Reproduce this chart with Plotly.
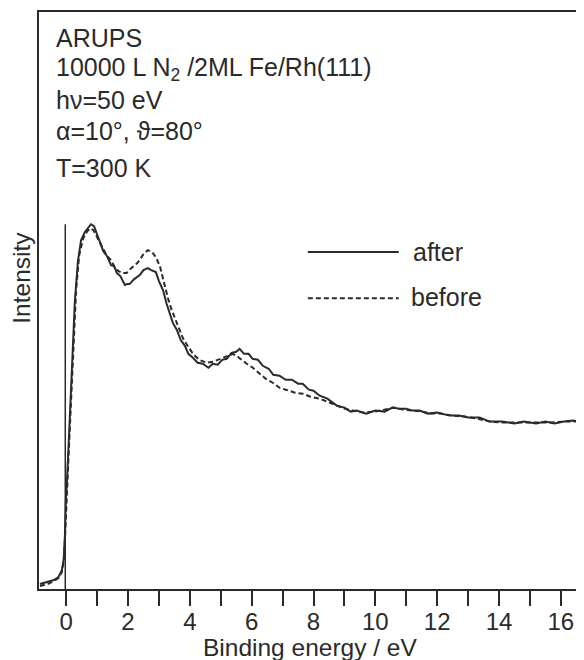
import plotly.graph_objects as go

# ---- data (binding energy in eV, intensity in arb. units) ----
energy_after = [-0.85, -0.6, -0.4, -0.25, -0.14, -0.08, -0.04, -0.01, 0.02, 0.1,
                0.15, 0.22, 0.28, 0.38, 0.48, 0.6, 0.72, 0.8, 0.9, 1.0,
                1.1, 1.2, 1.32, 1.45, 1.55, 1.64, 1.75, 1.9, 1.97, 2.05,
                2.2, 2.38, 2.5, 2.64, 2.75, 2.9, 3.0, 3.13, 3.25, 3.35,
                3.45, 3.58, 3.7, 3.84, 3.95, 4.1, 4.25, 4.42, 4.6, 4.74,
                4.9, 5.05, 5.19, 5.35, 5.5, 5.61, 5.75, 5.9, 6.03, 6.2,
                6.36, 6.55, 6.7, 6.9, 7.1, 7.3, 7.5, 7.65, 7.85, 8.0,
                8.2, 8.45, 8.75, 9.0, 9.2, 9.4, 9.7, 10.0, 10.3, 10.55,
                10.78, 11.0, 11.2, 11.43, 11.7, 12.0, 12.4, 12.7, 13.0, 13.37,
                13.7, 14.1, 14.5, 14.8, 15.2, 15.5, 15.8, 16.1, 16.4, 16.62]
intensity_after = [5, 7, 9, 12, 19, 30, 55, 90, 105, 160,
                   194, 245, 289, 329, 350, 358, 363, 366, 364, 355,
                   348, 339, 334, 325, 324, 317, 314, 305, 306, 306,
                   311, 315, 320, 322, 320, 318, 309, 300, 286, 277,
                   267, 260, 250, 244, 236, 232, 227, 226, 222, 226,
                   225, 230, 231, 237, 238, 241, 236, 236, 231, 230,
                   224, 221, 215, 214, 210, 210, 206, 206, 200, 199,
                   194, 191, 184, 182, 178, 179, 176, 179, 178, 182,
                   181, 181, 179, 179, 176, 177, 174, 174, 172, 172,
                   168, 168, 166, 168, 166, 168, 166, 168, 169, 168]

energy_before = [-0.85, -0.6, -0.4, -0.25, -0.14, -0.08, -0.04, 0.0, 0.03, 0.1,
                 0.17, 0.25, 0.32, 0.42, 0.55, 0.68, 0.78, 0.88, 1.0, 1.1,
                 1.2, 1.32, 1.45, 1.6, 1.8, 1.95, 2.1, 2.3, 2.5, 2.64,
                 2.78, 2.9, 3.03, 3.15, 3.29, 3.4, 3.52, 3.65, 3.77, 3.95,
                 4.1, 4.3, 4.55, 4.75, 4.97, 5.2, 5.39, 5.55, 5.7, 5.84,
                 6.04, 6.26, 6.45, 6.68, 6.9, 7.1, 7.4, 7.65, 7.9, 8.2,
                 8.5, 8.75, 9.0, 9.3, 9.6, 10.0, 10.3, 10.6, 10.9, 11.2,
                 11.5, 11.8, 12.1, 12.5, 12.9, 13.3, 13.7, 14.1, 14.5, 14.9,
                 15.3, 15.7, 16.1, 16.62]
intensity_before = [3, 5, 8, 11, 17, 28, 50, 85, 100, 150,
                    200, 255, 300, 335, 352, 359, 362, 360, 353, 347,
                    342, 334, 330, 321, 317, 317, 322, 327, 336, 340,
                    338, 333, 324, 308, 292, 281, 272, 262, 252, 243,
                    236, 230, 227, 228, 231, 234, 236, 233, 229, 226,
                    222, 216, 211, 207, 202, 200, 197, 196, 193, 191,
                    187, 184, 181, 179, 177, 178, 180, 182, 180, 179,
                    178, 176, 176, 174, 173, 171, 168, 167, 167, 167,
                    167, 167, 168, 168]

# Fermi level marker
fermi_x = [-0.03, -0.03]
fermi_y = [0, 366]

info_lines = ['ARUPS',
              '10000 L N<sub>2</sub> /2ML Fe/Rh(111)',
              'h\u03bd=50 eV',
              '\u03b1=10\u00b0, \u03d1=80\u00b0',
              'T=300 K']
info_y = [0.955, 0.902, 0.848, 0.794, 0.729]

ink = '#2a2a2a'
font = 'Liberation Sans, Arial, sans-serif'

fig = go.Figure()
fig.add_trace(go.Scatter(x=energy_before, y=intensity_before, mode='lines',
                         line=dict(color=ink, width=2, dash='5px,3px'),
                         name='before', showlegend=False))
fig.add_trace(go.Scatter(x=energy_after, y=intensity_after, mode='lines',
                         line=dict(color=ink, width=2),
                         name='after', showlegend=False))
fig.add_trace(go.Scatter(x=fermi_x, y=fermi_y, mode='lines',
                         line=dict(color=ink, width=1.5), showlegend=False))

# text block top left
for txt, yy in zip(info_lines, info_y):
    fig.add_annotation(text=txt, x=0.028, y=yy, xref='paper', yref='paper',
                       xanchor='left', yanchor='middle', showarrow=False,
                       font=dict(size=25, color=ink, family=font))

# hand-drawn legend
fig.add_shape(type='line', xref='paper', yref='paper', x0=0.497, x1=0.665,
              y0=0.584, y1=0.584, line=dict(color=ink, width=2))
fig.add_shape(type='line', xref='paper', yref='paper', x0=0.497, x1=0.665,
              y0=0.504, y1=0.504, line=dict(color=ink, width=2, dash='5px,3px'))
fig.add_annotation(text='after', x=0.688, y=0.584, xref='paper', yref='paper',
                   xanchor='left', yanchor='middle', showarrow=False,
                   font=dict(size=25, color=ink, family=font))
fig.add_annotation(text='before', x=0.684, y=0.506, xref='paper', yref='paper',
                   xanchor='left', yanchor='middle', showarrow=False,
                   font=dict(size=25, color=ink, family=font))

# axis titles
fig.add_annotation(text='Intensity', x=-0.032, y=0.539, xref='paper', yref='paper',
                   textangle=-90, xanchor='center', yanchor='middle', showarrow=False,
                   font=dict(size=24.5, color=ink, family=font))
fig.add_annotation(text='Binding energy / eV', x=0.5, y=-0.102, xref='paper', yref='paper',
                   xanchor='center', yanchor='middle', showarrow=False,
                   font=dict(size=24.5, color=ink, family=font))

# page body has an 8px margin, so the figure is sized/offset to compensate
fig.update_layout(
    width=576, height=652,
    margin=dict(l=31, r=4, t=2, b=71),
    paper_bgcolor='white', plot_bgcolor='white',
    font=dict(family=font, color=ink, size=24),
    xaxis=dict(range=[-0.88, 16.62], showgrid=False, zeroline=False,
               showline=True, mirror=True, linecolor=ink, linewidth=2,
               ticks='outside', ticklen=15, tickwidth=2, tickcolor=ink,
               tick0=0, dtick=2, ticklabelstandoff=-5,
               minor=dict(ticks='outside', ticklen=15, tickwidth=2,
                          tickcolor=ink, tick0=0, dtick=1, showgrid=False),
               tickfont=dict(size=24, color=ink, family=font)),
    yaxis=dict(range=[0, 579], showgrid=False, zeroline=False,
               showline=True, mirror=True, linecolor=ink, linewidth=2,
               ticks='', showticklabels=False),
)

fig.write_html("out.html")
